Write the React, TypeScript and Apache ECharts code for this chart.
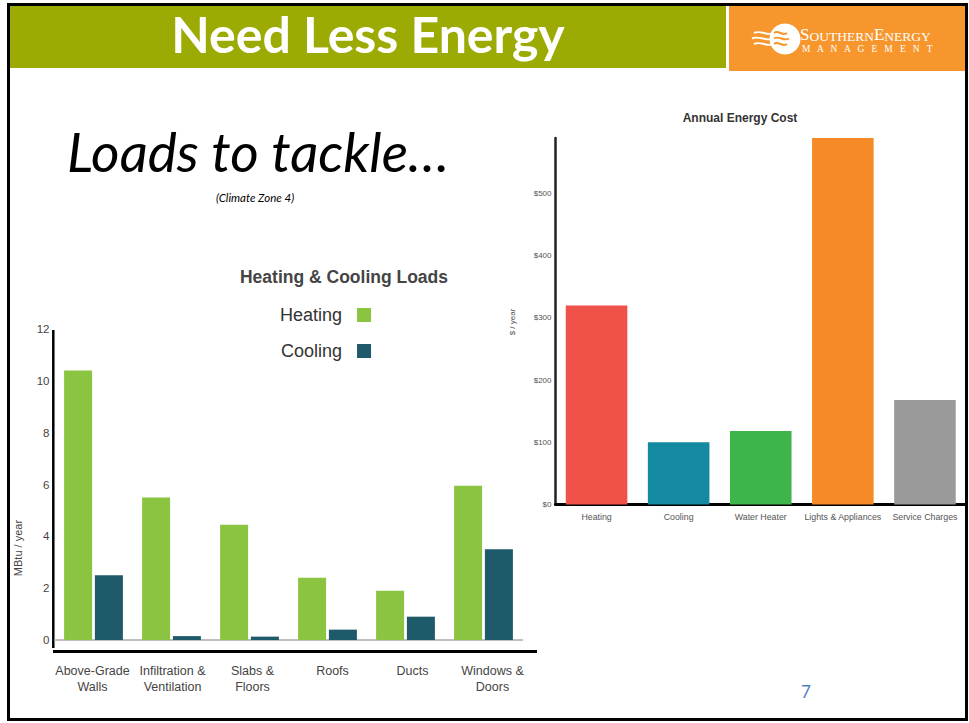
import React, { useEffect, useRef } from "react";
import * as echarts from "echarts";

// ---------- data ----------
const LOAD_CATEGORIES = [
  "Above-Grade\nWalls",
  "Infiltration &\nVentilation",
  "Slabs &\nFloors",
  "Roofs",
  "Ducts",
  "Windows &\nDoors",
];
const HEATING_LOADS = [10.4, 5.5, 4.45, 2.4, 1.9, 5.95];
const COOLING_LOADS = [2.5, 0.15, 0.13, 0.4, 0.9, 3.5];
const LOAD_AXIS = { min: 0, max: 12, interval: 2 };

const COST_CATEGORIES = [
  "Heating",
  "Cooling",
  "Water Heater",
  "Lights & Appliances",
  "Service Charges",
];
const COST_VALUES = [320, 100, 118, 589, 168];
const COST_AXIS = { min: 0, interval: 100 };

// ---------- styles ----------
const SANS = "'Liberation Sans', Arial, sans-serif";
const CAL = "Lato, 'Open Sans', sans-serif";
const SERIF = "'Liberation Serif', 'DejaVu Serif', serif";
const HEAT_COLOR = "#8BC441";
const COOL_COLOR = "#1E5A6A";
const COST_COLORS = ["#F0524A", "#138AA0", "#3DB54A", "#F58A27", "#9A9A9A"];
const GREEN = "#9CAB04";
const ORANGE = "#F7962C";

function wave(y: number, x1: number, x2: number, color: string) {
  const w = x2 - x1;
  return {
    type: "bezierCurve",
    shape: {
      x1,
      y1: y,
      cpx1: x1 + w * 0.33,
      cpy1: y - 3.5,
      cpx2: x1 + w * 0.66,
      cpy2: y + 3.5,
      x2,
      y2: y,
    },
    style: { stroke: color, lineWidth: 2, fill: null },
    silent: true,
  };
}

export default function App() {
  const ref = useRef<HTMLDivElement>(null);

  useEffect(() => {
    if (!ref.current) return;
    const chart = echarts.init(ref.current, undefined, { renderer: "svg" });

    const option: any = {
      animation: false,
      backgroundColor: "#ffffff",
      title: [
        {
          text: "Heating & Cooling Loads",
          left: 344,
          top: 268,
          textAlign: "center",
          padding: 0,
          textStyle: { fontFamily: SANS, fontSize: 17.5, fontWeight: "bold", color: "#444" },
        },
        {
          text: "Annual Energy Cost",
          left: 740,
          top: 112,
          textAlign: "center",
          padding: 0,
          textStyle: { fontFamily: SANS, fontSize: 12, fontWeight: "bold", color: "#333" },
        },
      ],
      legend: {
        data: ["Heating", "Cooling"],
        orient: "vertical",
        left: 280,
        top: 305,
        align: "right",
        itemWidth: 14,
        itemHeight: 14,
        itemGap: 16,
        icon: "rect",
        padding: 0,
        textStyle: {
          fontFamily: SANS,
          fontSize: 18,
          color: "#333",
          lineHeight: 20,
          padding: [0, 10, 0, 0],
        },
      },
      grid: [
        { left: 54.5, top: 329, width: 468, height: 311 },
        { left: 52.5, top: 329, width: 480, height: 311 },
        { left: 555.5, top: 138, width: 410.5, height: 366.5 },
      ],
      xAxis: [
        {
          type: "category",
          gridIndex: 0,
          data: LOAD_CATEGORIES,
          axisLine: { lineStyle: { color: "#AAAAAA", width: 1.5 } },
          axisTick: { show: false },
          axisLabel: { show: false },
        },
        {
          type: "category",
          gridIndex: 1,
          data: LOAD_CATEGORIES,
          axisLine: { show: false },
          axisTick: { show: false },
          axisLabel: {
            interval: 0,
            margin: 23,
            fontFamily: SANS,
            fontSize: 12.5,
            lineHeight: 16,
            color: "#444",
          },
        },
        {
          type: "category",
          gridIndex: 2,
          data: COST_CATEGORIES,
          axisLine: { lineStyle: { color: "#000", width: 3 } },
          axisTick: { show: false },
          axisLabel: {
            interval: 0,
            margin: 8,
            fontFamily: SANS,
            fontSize: 8.8,
            color: "#555",
          },
        },
      ],
      yAxis: [
        {
          type: "value",
          gridIndex: 0,
          min: LOAD_AXIS.min,
          max: LOAD_AXIS.max,
          interval: LOAD_AXIS.interval,
          axisLine: { show: false },
          axisTick: { show: false },
          splitLine: { show: false },
          axisLabel: { margin: 5, fontFamily: SANS, fontSize: 11.5, color: "#444" },
        },
        {
          type: "value",
          gridIndex: 1,
          min: 0,
          max: 1,
          show: false,
        },
        {
          type: "value",
          gridIndex: 2,
          min: COST_AXIS.min,
          max: "dataMax",
          interval: COST_AXIS.interval,
          axisLine: { show: true, lineStyle: { color: "#222", width: 2.5 } },
          axisTick: { show: false },
          splitLine: { show: false },
          axisLabel: {
            showMaxLabel: false,
            margin: 4,
            fontFamily: SANS,
            fontSize: 8,
            color: "#555",
            formatter: (v: number) => "$" + v,
          },
        },
      ],
      series: [
        {
          name: "Heating",
          type: "bar",
          xAxisIndex: 0,
          yAxisIndex: 0,
          data: HEATING_LOADS,
          barWidth: 28,
          barGap: "10%",
          itemStyle: { color: HEAT_COLOR },
        },
        {
          name: "Cooling",
          type: "bar",
          xAxisIndex: 0,
          yAxisIndex: 0,
          data: COOLING_LOADS,
          barWidth: 28,
          barGap: "10%",
          itemStyle: { color: COOL_COLOR },
        },
        {
          name: "Annual Energy Cost",
          type: "bar",
          xAxisIndex: 2,
          yAxisIndex: 2,
          barWidth: "75%",
          data: COST_VALUES.map((v, i) => ({ value: v, itemStyle: { color: COST_COLORS[i] } })),
        },
      ],
      graphic: [
        // header bars
        { type: "rect", shape: { x: 10, y: 6, width: 716, height: 62 }, style: { fill: GREEN }, silent: true },
        { type: "rect", shape: { x: 729, y: 6, width: 236, height: 65 }, style: { fill: ORANGE }, silent: true },
        {
          type: "text",
          x: 368,
          y: 34,
          style: {
            text: "Need Less Energy",
            fill: "#fff",
            font: `bold 50px ${CAL}`,
            textAlign: "center",
            textVerticalAlign: "middle",
          },
          silent: true,
        },
        // logo
        { type: "circle", shape: { cx: 785, cy: 39, r: 15.5 }, style: { fill: "#fff" }, silent: true },
        wave(33, 754, 774, "#fff"),
        wave(38.5, 752, 774, "#fff"),
        wave(44, 754, 774, "#fff"),
        wave(33, 774, 787, ORANGE),
        wave(38.5, 774, 789, ORANGE),
        wave(44, 774, 787, ORANGE),
        {
          type: "text",
          x: 800,
          y: 43,
          style: {
            text: "{b|S}{s|OUTHERN}{b|E}{s|NERGY}",
            textVerticalAlign: "bottom",
            rich: {
              b: { fontFamily: SERIF, fontSize: 17, fill: "#fff", color: "#fff", verticalAlign: "bottom" },
              s: { fontFamily: SERIF, fontSize: 13.5, fill: "#fff", color: "#fff", verticalAlign: "bottom" },
            },
          },
          silent: true,
        },
        {
          type: "text",
          x: 802,
          y: 49,
          style: {
            text: "M   A   N   A   G   E   M   E   N   T",
            fill: "#fff",
            font: `9.5px ${SERIF}`,
            textVerticalAlign: "middle",
          },
          silent: true,
        },
        // slide texts
        {
          type: "text",
          x: 67,
          y: 151,
          style: {
            text: "Loads to tackle…",
            fill: "#000",
            font: `italic 55px ${CAL}`,
            textVerticalAlign: "middle",
          },
          silent: true,
        },
        {
          type: "text",
          x: 255,
          y: 197,
          style: {
            text: "(Climate Zone 4)",
            fill: "#000",
            font: `italic 11.5px ${CAL}`,
            textAlign: "center",
            textVerticalAlign: "middle",
          },
          silent: true,
        },
        {
          type: "text",
          x: 806,
          y: 691,
          style: {
            text: "7",
            fill: "#4F81BD",
            font: `17px ${CAL}`,
            textAlign: "center",
            textVerticalAlign: "middle",
          },
          silent: true,
        },
        // axis names
        {
          type: "text",
          x: 18,
          y: 548,
          rotation: Math.PI / 2,
          style: {
            text: "MBtu / year",
            fill: "#444",
            font: `11px ${SANS}`,
            textAlign: "center",
            textVerticalAlign: "middle",
          },
          silent: true,
        },
        {
          type: "text",
          x: 512,
          y: 322,
          rotation: Math.PI / 2,
          style: {
            text: "$ / year",
            fill: "#555",
            font: `8px ${SANS}`,
            textAlign: "center",
            textVerticalAlign: "middle",
          },
          silent: true,
        },
        // left chart image border lines
        {
          type: "line",
          shape: { x1: 53.3, y1: 330, x2: 53.3, y2: 648 },
          style: { stroke: "#000", lineWidth: 2.5 },
          silent: true,
        },
        {
          type: "line",
          shape: { x1: 53, y1: 651.5, x2: 537, y2: 651.5 },
          style: { stroke: "#000", lineWidth: 3 },
          silent: true,
        },
        // slide frame
        {
          type: "rect",
          shape: { x: 8.5, y: 4.5, width: 958, height: 715 },
          style: { stroke: "#000", lineWidth: 3, fill: null },
          silent: true,
        },
      ],
    };

    chart.setOption(option);
    return () => chart.dispose();
  }, []);

  return (
    <div
      ref={ref}
      style={{ position: "absolute", left: 0, top: 0, width: 969, height: 723 }}
    />
  );
}
